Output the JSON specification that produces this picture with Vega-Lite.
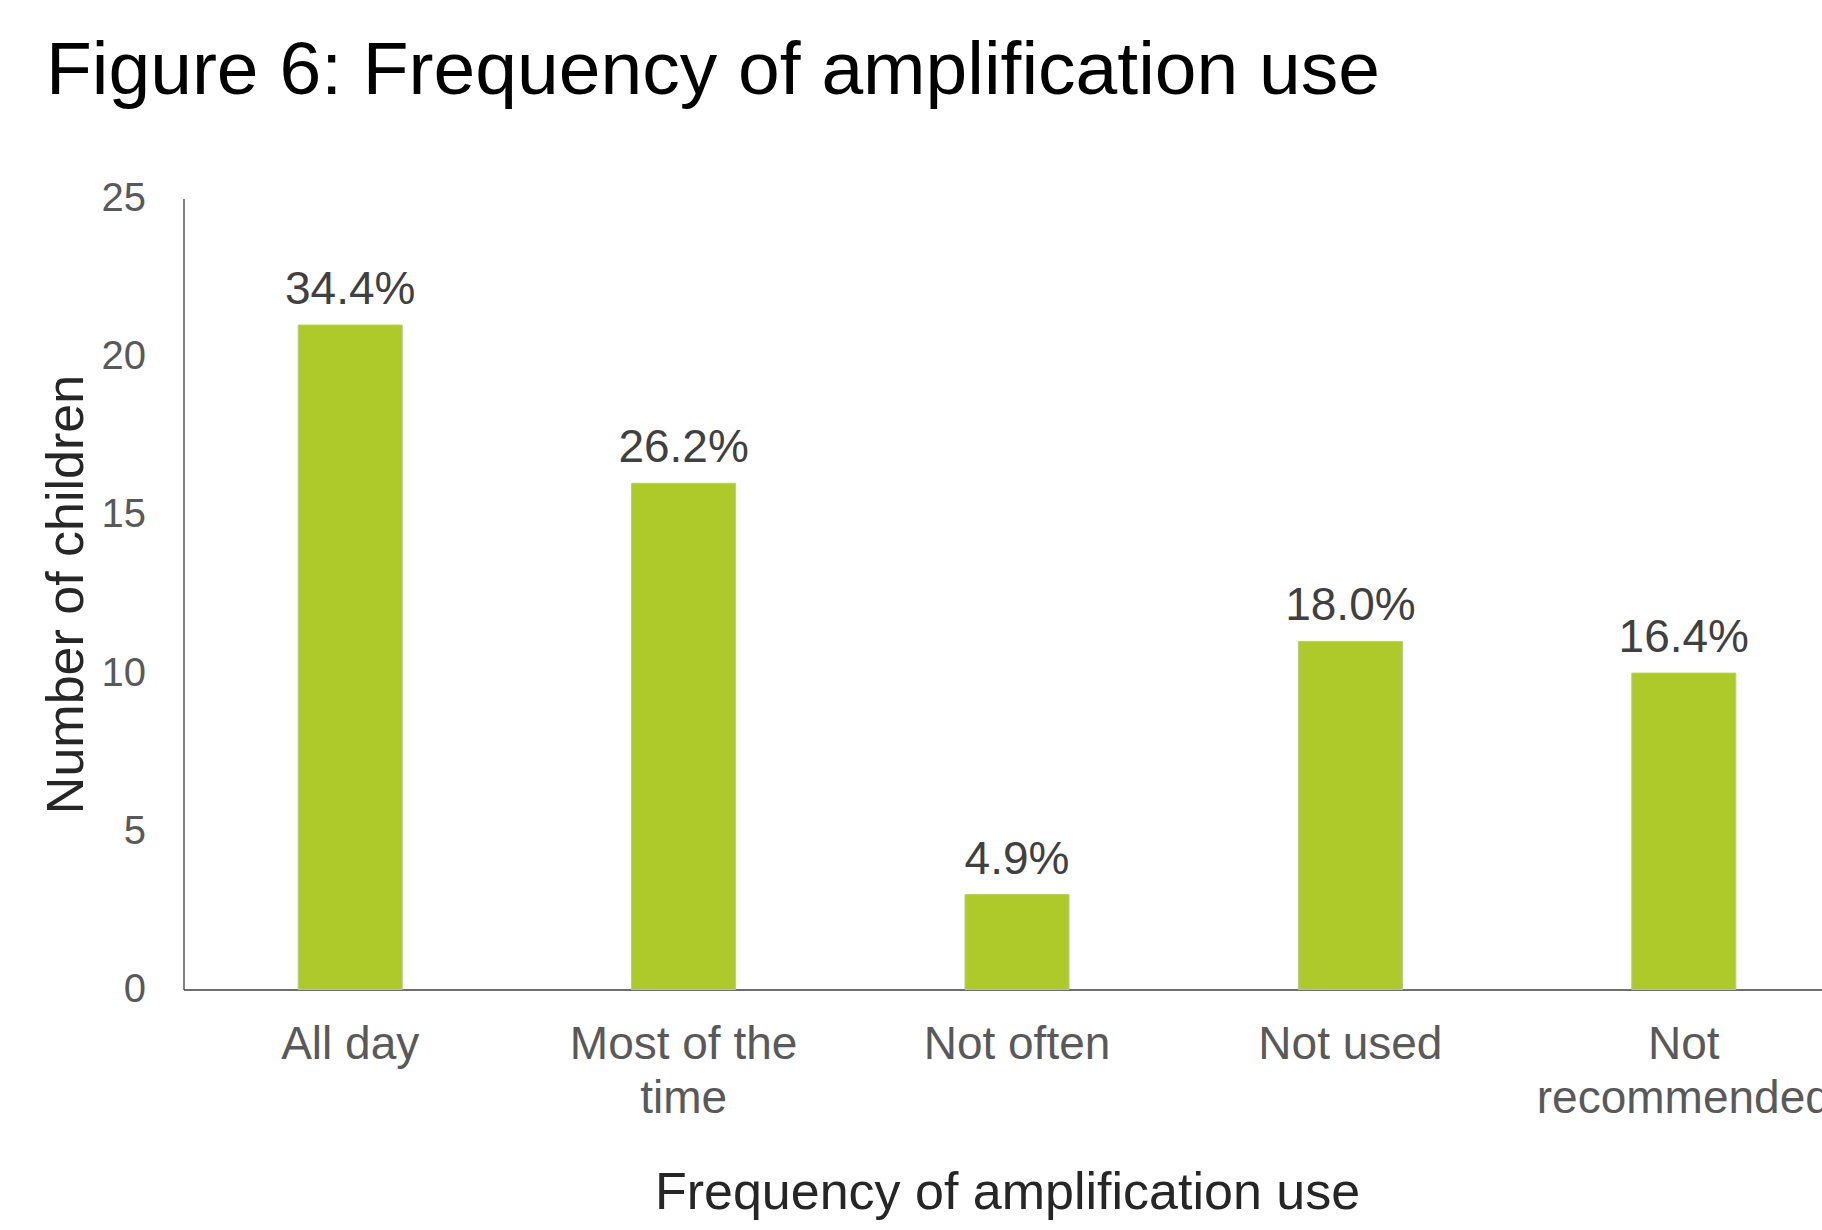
{
  "$schema": "https://vega.github.io/schema/vega-lite/v6.json",
  "autosize": "none",
  "width": 1638,
  "height": 791,
  "padding": {"left": 183.5, "top": 198.5, "right": 0, "bottom": 240.5},
  "background": "white",
  "title": {
    "text": "Figure 6: Frequency of amplification use",
    "anchor": "start",
    "frame": "group",
    "font": "Liberation Sans",
    "fontSize": 75,
    "fontWeight": "normal",
    "color": "#000000",
    "baseline": "alphabetic",
    "offset": 10,
    "dx": -137.5
  },
  "config": {
    "view": {"stroke": null},
    "font": "Liberation Sans"
  },
  "data": {
    "values": [
      {"frequency": "All day", "children": 21, "pct": "34.4%"},
      {"frequency": "Most of the time", "children": 16, "pct": "26.2%"},
      {"frequency": "Not often", "children": 3, "pct": "4.9%"},
      {"frequency": "Not used", "children": 11, "pct": "18.0%"},
      {"frequency": "Not recommended", "children": 10, "pct": "16.4%"}
    ]
  },
  "encoding": {
    "x": {
      "field": "frequency",
      "type": "nominal",
      "sort": null,
      "scale": {"range": [0, 1667], "paddingInner": 0.688, "paddingOuter": 0.344},
      "axis": {
        "title": "Frequency of amplification use",
        "titleFont": "Liberation Sans",
        "titleFontSize": 52,
        "titleFontWeight": "normal",
        "titleColor": "#262626",
        "titleX": 823.5,
        "titleY": 218.5,
        "titleBaseline": "alphabetic",
        "titleAnchor": "middle",
        "labelAngle": 0,
        "labelFont": "Liberation Sans",
        "labelFontSize": 46,
        "labelColor": "#595959",
        "labelLineHeight": 54,
        "labelPadding": 33,
        "labelLimit": 0,
        "labelExpr": "datum.label == 'Most of the time' ? ['Most of the', 'time'] : datum.label == 'Not recommended' ? ['Not', 'recommended'] : datum.label",
        "ticks": false,
        "tickSize": 0,
        "domainColor": "#6f6f6f",
        "domainWidth": 2,
        "labelOverlap": false
      }
    },
    "y": {
      "field": "children",
      "type": "quantitative",
      "scale": {"domain": [0, 25], "nice": false},
      "axis": {
        "title": "Number of children",
        "titleFont": "Liberation Sans",
        "titleFontSize": 52,
        "titleFontWeight": "normal",
        "titleColor": "#262626",
        "titleAngle": -90,
        "titleX": -101.5,
        "titleBaseline": "alphabetic",
        "titleAlign": "center",
        "values": [0, 5, 10, 15, 20, 25],
        "grid": false,
        "ticks": false,
        "tickSize": 0,
        "labelFont": "Liberation Sans",
        "labelFontSize": 40,
        "labelColor": "#595959",
        "labelPadding": 38,
        "domainColor": "#404040",
        "domainWidth": 1.3
      }
    }
  },
  "layer": [
    {
      "mark": {"type": "bar", "color": "#adca2a", "stroke": "#b9c88a", "strokeWidth": 1}
    },
    {
      "mark": {
        "type": "text",
        "baseline": "alphabetic",
        "align": "center",
        "dy": -21,
        "font": "Liberation Sans",
        "fontSize": 46,
        "color": "#404040"
      },
      "encoding": {"text": {"field": "pct"}}
    }
  ]
}
